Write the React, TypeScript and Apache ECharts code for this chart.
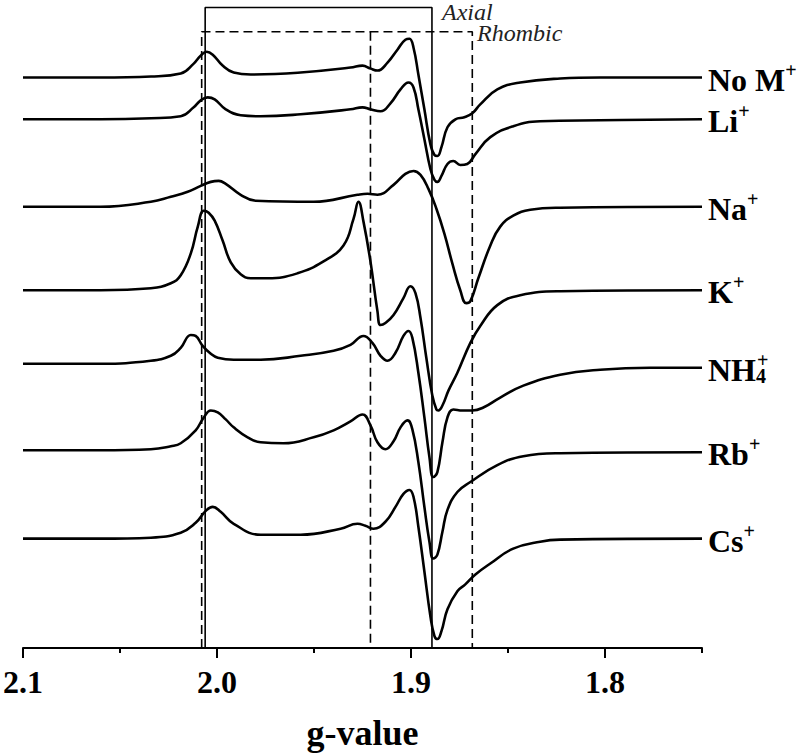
import React, { useEffect, useRef } from "react";
import * as echarts from "echarts";

// g-value axis
const gMin = 1.75;
const gMax = 2.1;
const majorTicks = [2.1, 2.0, 1.9, 1.8];
const minorTicks = [2.05, 1.95, 1.85, 1.75];

// spectrum labels (rich text) and vertical offsets (baseline position, arbitrary units)
const ionLabels = [
  "{b|No M}{sup|+}",
  "{b|Li}{sup|+}",
  "{b|Na}{sup|+}",
  "{b|K}{sup|+}",
  "{b|NH}{sub|4}{sup|+}",
  "{b|Rb}{sup|+}",
  "{b|Cs}{sup|+}",
];
const baselines = [574, 532, 444, 360, 284, 197, 110];

// EPR derivative spectra: [g, intensity]
const noM = [
  [2.1, 0], [2.06, 0], [2.034, 1], [2.0187, 4], [2.012, 14], [2.0084, 22], [2.0053, 26], [2.0022, 23],
  [1.9971, 12], [1.9914, 5], [1.9826, 3], [1.9569, 5], [1.9312, 10], [1.925, 12], [1.9209, 9], [1.9173, 7],
  [1.9121, 15], [1.907, 28], [1.9029, 38], [1.9008, 39], [1.8987, 30], [1.8962, 3], [1.8931, -32], [1.89, -67],
  [1.8879, -78], [1.8864, -79], [1.8843, -70], [1.8812, -50], [1.8771, -42], [1.8725, -40], [1.8684, -36],
  [1.8643, -27], [1.8555, -12], [1.8437, -5], [1.8231, -1], [1.8025, 0], [1.75, 0],
];
const li = [
  [2.1, 0], [2.06, 0], [2.034, 1], [2.0187, 3], [2.012, 12], [2.0084, 19], [2.0048, 22], [2.0012, 20],
  [1.9955, 10], [1.9878, 4], [1.9775, 3], [1.9569, 5], [1.9312, 10], [1.925, 12], [1.9209, 10], [1.9157, 8],
  [1.9106, 16], [1.9054, 30], [1.9013, 37], [1.8987, 32], [1.8962, 10], [1.8931, -20], [1.89, -50],
  [1.8879, -61], [1.8864, -63], [1.8843, -57], [1.8812, -45], [1.8782, -42], [1.8746, -46], [1.871, -45],
  [1.8668, -35], [1.8591, -18], [1.8473, -7], [1.8334, -2], [1.8025, -1], [1.75, 0],
];
const na = [
  [2.1, 0], [2.06, 0], [2.0341, 5], [2.0238, 10], [2.0151, 15], [2.0084, 21], [2.0032, 25], [1.9991, 26],
  [1.9955, 23], [1.9878, 12], [1.9801, 6], [1.9502, 5], [1.9276, 12], [1.9224, 13], [1.9173, 12], [1.909, 22],
  [1.9029, 33], [1.8987, 36], [1.8951, 32], [1.891, 18], [1.8869, -2], [1.8828, -27], [1.8787, -57],
  [1.8746, -84], [1.8715, -97], [1.8694, -95], [1.8653, -72], [1.8591, -39], [1.854, -20], [1.8473, -9],
  [1.8385, -3], [1.8231, -1], [1.75, 0],
];
const k = [
  [2.1, 0], [2.06, 0], [2.0341, 2], [2.0238, 7], [2.0187, 15], [2.0135, 37], [2.0099, 64], [2.0068, 80],
  [2.0043, 78], [2.0012, 70], [1.9971, 50], [1.9929, 28], [1.9878, 16], [1.9826, 12], [1.9739, 12],
  [1.9585, 17], [1.9451, 29], [1.9348, 45], [1.9296, 72], [1.9271, 89], [1.9245, 69], [1.9209, 29],
  [1.9173, -21], [1.9157, -35], [1.9132, -33], [1.909, -25], [1.9039, -8], [1.9003, 4], [1.8977, -3],
  [1.8951, -28], [1.8921, -68], [1.889, -106], [1.8869, -120], [1.8859, -121], [1.8838, -116],
  [1.8807, -101], [1.8761, -83], [1.8694, -53], [1.8643, -36], [1.8555, -15], [1.8437, -5], [1.8231, -1],
  [1.75, 0],
];
const nh4 = [
  [2.1, 2], [2.06, 2], [2.0341, 5], [2.0238, 10], [2.0187, 18], [2.0135, 31], [2.011, 30], [2.0074, 20],
  [2.0032, 12], [1.9996, 8], [1.9914, 6], [1.9775, 6], [1.9569, 10], [1.9399, 15], [1.9312, 21], [1.9245, 30],
  [1.9199, 23], [1.9157, 10], [1.9121, 5], [1.908, 13], [1.9039, 30], [1.9013, 35], [1.8993, 28],
  [1.8962, -7], [1.8931, -52], [1.8905, -92], [1.8885, -112], [1.8864, -107], [1.8838, -77], [1.8812, -52],
  [1.8782, -44], [1.8735, -45], [1.8684, -45], [1.8627, -42], [1.854, -32], [1.8421, -20], [1.8231, -9],
  [1.8025, -4], [1.7768, -2], [1.75, -2],
];
const rb = [
  [2.1, 2], [2.06, 2], [2.0341, 3], [2.0238, 6], [2.0187, 9], [2.011, 22], [2.0068, 35], [2.0032, 42],
  [1.9996, 40], [1.9955, 33], [1.9914, 25], [1.9842, 15], [1.9775, 10], [1.9657, 9], [1.9502, 15],
  [1.9399, 22], [1.9312, 31], [1.925, 38], [1.9209, 27], [1.9173, 10], [1.9132, 3], [1.909, 11],
  [1.9054, 25], [1.9018, 32], [1.8993, 23], [1.8962, -10], [1.8931, -55], [1.8905, -90], [1.8885, -107],
  [1.8864, -103], [1.8838, -80], [1.8812, -58], [1.8761, -40], [1.8694, -30], [1.8555, -13], [1.8421, -4],
  [1.8231, -1], [1.75, 0],
];
const cs = [
  [2.1, 0], [2.06, 0], [2.0341, 1], [2.0187, 6], [2.011, 16], [2.0058, 28], [2.0022, 32], [1.9981, 27],
  [1.9914, 15], [1.9775, 4], [1.9569, 4], [1.9363, 10], [1.9276, 15], [1.9235, 13], [1.9193, 10],
  [1.9132, 17], [1.908, 32], [1.9039, 45], [1.9008, 49], [1.8987, 42], [1.8962, 12], [1.8931, -33],
  [1.89, -78], [1.8879, -98], [1.8864, -101], [1.8843, -93], [1.8812, -71], [1.8761, -53], [1.872, -46],
  [1.8668, -36], [1.8591, -25], [1.8473, -10], [1.8334, -3], [1.8231, -1], [1.75, 0],
];
const spectra = [noM, li, na, k, nh4, rb, cs];

// g-value guide boxes
const axialG = [2.0061, 1.8892];
const axialTop = 644.5;
const rhombicG = [2.0079, 1.9209, 1.8684];
const rhombicTop = 620;

const SERIF = "'Liberation Serif', 'Times New Roman', serif";

export default function App() {
  const ref = useRef<HTMLDivElement>(null);
  useEffect(() => {
    document.body.style.margin = "0";
    if (!ref.current) return;
    const chart = echarts.init(ref.current, undefined, { renderer: "svg" });

    const richStyles = {
      b: { fontFamily: SERIF, fontWeight: "bold", fontSize: 32, lineHeight: 36, verticalAlign: "bottom", color: "#000" },
      sup: { fontFamily: SERIF, fontWeight: "bold", fontSize: 20, lineHeight: 14, verticalAlign: "top", color: "#000" },
      sub: { fontFamily: SERIF, fontWeight: "bold", fontSize: 20, lineHeight: 20, verticalAlign: "bottom", width: 1, color: "#000" },
    };

    const spectrumSeries = spectra.map((pts, i) => ({
      type: "line",
      name: ionLabels[i],
      xAxisIndex: 0,
      data: pts.map(([g, v], j) => {
        const value = [g, baselines[i] + v];
        if (j !== pts.length - 1) return value;
        return {
          value,
          label: {
            show: true,
            position: "right",
            distance: 6,
            formatter: () => ionLabels[i],
            rich: richStyles,
            color: "#000",
          },
        };
      }),
      showSymbol: true,
      symbol: "circle",
      symbolSize: 0,
      smooth: 0.45,
      lineStyle: { color: "#000", width: 2.6 },
      itemStyle: { color: "#000" },
      label: { show: false },
      silent: true,
      z: 3,
    }));

    const guideSeries = [
      {
        type: "line",
        xAxisIndex: 0,
        data: [[axialG[0], 0], [axialG[0], axialTop], [axialG[1], axialTop], [axialG[1], 0]],
        showSymbol: false,
        lineStyle: { color: "#000", width: 1.6 },
        silent: true,
        z: 2,
      },
      {
        type: "line",
        xAxisIndex: 0,
        data: [[rhombicG[0], 0], [rhombicG[0], rhombicTop], [rhombicG[2], rhombicTop], [rhombicG[2], 0]],
        showSymbol: false,
        lineStyle: { color: "#000", width: 1.6, type: [9, 5] },
        silent: true,
        z: 2,
      },
      {
        type: "line",
        xAxisIndex: 0,
        data: [[rhombicG[1], rhombicTop], [rhombicG[1], 0]],
        showSymbol: false,
        lineStyle: { color: "#000", width: 1.6, type: [9, 5] },
        silent: true,
        z: 2,
      },
    ];

    chart.setOption({
      animation: false,
      backgroundColor: "#fff",
      grid: { left: 22, right: 98, top: 0, bottom: 104, containLabel: false },
      xAxis: [
        {
          type: "value",
          min: gMin,
          max: gMax,
          inverse: true,
          position: "bottom",
          axisLine: { show: true, onZero: false, lineStyle: { color: "#000", width: 2 } },
          axisTick: { show: true, customValues: majorTicks, length: 10, lineStyle: { color: "#000", width: 2 } },
          axisLabel: {
            show: true,
            customValues: majorTicks,
            formatter: (v: number) => v.toFixed(1),
            margin: 18,
            fontFamily: SERIF,
            fontWeight: "bold",
            fontSize: 32,
            color: "#000",
          },
          splitLine: { show: false },
          name: "g-value",
          nameLocation: "middle",
          nameGap: 67,
          nameTextStyle: { fontFamily: SERIF, fontWeight: "bold", fontSize: 36, color: "#000" },
        },
        {
          type: "value",
          min: gMin,
          max: gMax,
          inverse: true,
          position: "bottom",
          axisLine: { show: false, onZero: false },
          axisTick: { show: true, customValues: minorTicks, length: 5, lineStyle: { color: "#000", width: 2 } },
          axisLabel: { show: false },
          splitLine: { show: false },
        },
      ],
      yAxis: { type: "value", min: 0, max: 652, show: false },
      graphic: [
        {
          type: "text",
          left: 442,
          top: 0,
          style: { text: "Axial", font: `italic 24px ${SERIF}`, fill: "#222" },
        },
        {
          type: "text",
          left: 477,
          top: 21,
          style: { text: "Rhombic", font: `italic 24px ${SERIF}`, fill: "#222" },
        },
      ],
      series: [...guideSeries, ...spectrumSeries],
    });
    return () => chart.dispose();
  }, []);
  return <div ref={ref} style={{ width: 800, height: 756, position: "absolute", left: 0, top: 0 }} />;
}
